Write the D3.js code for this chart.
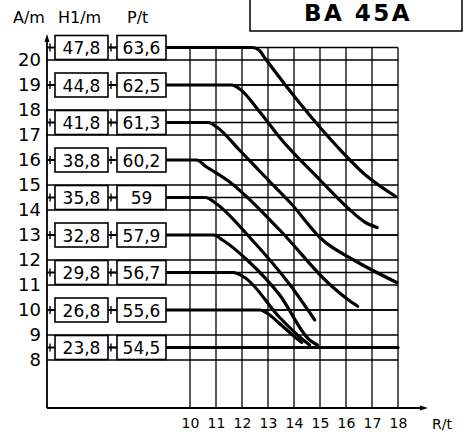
<!DOCTYPE html>
<html>
<head>
<meta charset="utf-8">
<script src="https://cdn.jsdelivr.net/npm/d3@7"></script>
<style>
  body { margin: 0; background: #fff; }
  svg { display: block; }
  text { font-family: "DejaVu Sans", sans-serif; fill: #000; }
</style>
</head>
<body>
<div id="chart"></div>
<script>
// curve rows: level on A/m axis, H1/m and P/t values in the boxes
const levels = [20.5, 19, 17.5, 16, 14.5, 13, 11.5, 10, 8.5];
const headH = ['47,8', '44,8', '41,8', '38,8', '35,8', '32,8', '29,8', '26,8', '23,8'];
const headP = ['63,6', '62,5', '61,3', '60,2', '59', '57,9', '56,7', '55,6', '54,5'];
const yTicks = [8, 9, 10, 11, 12, 13, 14, 15, 16, 17, 18, 19, 20];
const xTicks = [10, 11, 12, 13, 14, 15, 16, 17, 18];

// knee (R where the flat part ends) and the falling part of each curve, [R, A/m]
const knees = [12.4, 11.6, 10.7, 10.25, 10.6, 10.9, 11.65, 12.7, 18];
const falls = [
  [[12.65, 20.4], [12.9, 20.05], [14.2, 18.3], [15.65, 16.55], [16.75, 15.4], [17.9, 14.55]],
  [[11.9, 18.85], [12.7, 17.9], [13.45, 16.9], [15, 15.2], [16.05, 14.1], [16.75, 13.5], [17.2, 13.3]],
  [[11.05, 17.3], [11.9, 16.4], [13.1, 15.1], [13.85, 14.3], [15.1, 12.8], [16.3, 12], [17.95, 11.1]],
  [[10.6, 15.75], [11.55, 15.1], [13.45, 13.2], [15.4, 11], [16.1, 10.4], [16.45, 10.15]],
  [[10.95, 14.3], [12.3, 12.9], [13.85, 11], [14.8, 9.6]],
  [[11.25, 12.8], [12.3, 11.9], [13.45, 10.6], [14.6, 8.8], [14.9, 8.6]],
  [[12.1, 11.3], [13.45, 9.7], [14.3, 8.85], [14.6, 8.6]],
  [[13.0, 9.85], [13.4, 9.5], [14.0, 8.95], [14.3, 8.7]],
  []
];

const width = 469, height = 435;
const x = d3.scaleLinear().domain([10, 18]).range([190, 398]);
const y = d3.scaleLinear().domain([8, 20]).range([360, 60]);
const axisX = 47, baseY = 408, boxEnd = 166;

const svg = d3.select('#chart').append('svg')
  .attr('width', width).attr('height', height);

// title box
svg.append('rect').attr('x', 250).attr('y', -4).attr('width', 212).attr('height', 35)
  .attr('fill', 'none').attr('stroke', '#000').attr('stroke-width', 1.5);
svg.append('text').attr('x', 358).attr('y', 21).attr('text-anchor', 'middle')
  .attr('font-size', 23).attr('font-weight', 'bold').attr('letter-spacing', 2.5)
  .text('BA 45A');

// column heads
svg.append('text').attr('x', 13).attr('y', 23).attr('font-size', 16).text('A/m');
svg.append('text').attr('x', 58).attr('y', 23).attr('font-size', 16).text('H1/m');
svg.append('text').attr('x', 127).attr('y', 23).attr('font-size', 16).text('P/t');

// grid
const hLines = yTicks.concat(levels);
svg.append('g').selectAll('line').data(hLines).join('line')
  .attr('x1', axisX).attr('x2', x(18))
  .attr('y1', d => y(d)).attr('y2', d => y(d))
  .attr('stroke', '#000').attr('stroke-width', 1.6);
svg.append('g').selectAll('line').data(xTicks).join('line')
  .attr('x1', d => x(d)).attr('x2', d => x(d))
  .attr('y1', y(20.5)).attr('y2', baseY)
  .attr('stroke', '#000').attr('stroke-width', 1.3);

// axes lines with arrows
svg.append('line').attr('x1', axisX).attr('x2', axisX).attr('y1', 38).attr('y2', baseY)
  .attr('stroke', '#000').attr('stroke-width', 1.8);
svg.append('path').attr('d', `M${axisX - 2.5},42 L${axisX},34 L${axisX + 2.5},42 Z`).attr('fill', '#000');
svg.append('line').attr('x1', axisX).attr('x2', 424).attr('y1', baseY).attr('y2', baseY)
  .attr('stroke', '#000').attr('stroke-width', 1.8);
svg.append('path').attr('d', `M420,${baseY - 2.5} L428,${baseY} L420,${baseY + 2.5} Z`).attr('fill', '#000');

// tick labels
const yAxis = svg.append('g').attr('transform', `translate(${axisX},0)`)
  .call(d3.axisLeft(y).tickValues(yTicks).tickSize(0).tickPadding(6));
yAxis.select('.domain').remove();
yAxis.selectAll('text').attr('font-size', 18).attr('font-family', '"DejaVu Sans", sans-serif');

const xAxis = svg.append('g').attr('transform', `translate(0,${baseY})`)
  .call(d3.axisBottom(x).tickValues(xTicks).tickSize(0).tickPadding(10));
xAxis.select('.domain').remove();
xAxis.selectAll('text').attr('font-size', 14).attr('font-family', '"DejaVu Sans", sans-serif');
svg.append('text').attr('x', 432).attr('y', 429).attr('font-size', 14).text('R/t');

// curves
const line = d3.line().x(d => x(d[0])).y(d => y(d[1])).curve(d3.curveMonotoneX);
levels.forEach((lv, i) => {
  const pts = [[x.invert(boxEnd), lv], [knees[i], lv]].concat(falls[i]);
  svg.append('path').attr('d', line(pts))
    .attr('fill', 'none').attr('stroke', '#000').attr('stroke-width', 3.2)
    .attr('stroke-linecap', 'round');
});

// value boxes
const rows = svg.append('g').selectAll('g').data(levels).join('g')
  .attr('transform', d => `translate(0,${y(d)})`);
rows.append('line').attr('x1', axisX).attr('x2', 55).attr('stroke', '#000').attr('stroke-width', 1.6);
rows.append('line').attr('x1', 50).attr('x2', 50).attr('y1', -4).attr('y2', 4).attr('stroke', '#000').attr('stroke-width', 1.4);
rows.append('line').attr('x1', 108).attr('x2', 117).attr('stroke', '#000').attr('stroke-width', 2);
rows.append('line').attr('x1', 111).attr('x2', 111).attr('y1', -4).attr('y2', 4).attr('stroke', '#000').attr('stroke-width', 1.4);
rows.append('rect').attr('x', 55).attr('y', -12).attr('width', 53).attr('height', 24)
  .attr('fill', '#fff').attr('stroke', '#000').attr('stroke-width', 1.6);
rows.append('rect').attr('x', 117).attr('y', -12).attr('width', 49).attr('height', 24)
  .attr('fill', '#fff').attr('stroke', '#000').attr('stroke-width', 1.6);
rows.append('text').attr('x', 81.5).attr('y', 6.5).attr('text-anchor', 'middle')
  .attr('font-size', 17).text((d, i) => headH[i]);
rows.append('text').attr('x', 141.5).attr('y', 6.5).attr('text-anchor', 'middle')
  .attr('font-size', 17).text((d, i) => headP[i]);
</script>
</body>
</html>
